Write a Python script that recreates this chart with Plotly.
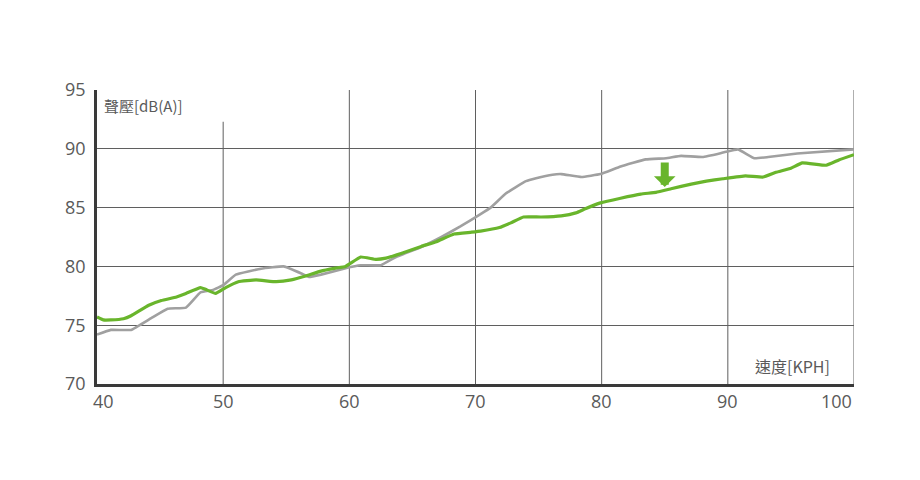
import plotly.graph_objects as go

# ---- data ----
gray_x = [40, 41.1, 42.7, 44.3, 45.6, 47.05, 48.2, 49.2, 50, 51, 53, 54.8, 56.2, 56.8,
          57.75, 59.7, 60.9, 62.5, 63.7, 65.7, 67.3, 68.8, 70.4, 71.2, 72.4, 74, 74.8,
          76.1, 76.8, 78.4, 79.9, 81.5, 83.5, 85.1, 86.3, 88.0, 89.7, 90.8, 92.1, 93.2,
          95.5, 100]
gray_y = [74.2, 74.6, 74.6, 75.6, 76.4, 76.5, 77.8, 78.0, 78.4, 79.3, 79.8, 80.0, 79.4, 79.1,
          79.3, 79.85, 80.1, 80.1, 80.8, 81.65, 82.5, 83.4, 84.45, 85.0, 86.2, 87.25, 87.5,
          87.8, 87.85, 87.6, 87.85, 88.5, 89.1, 89.2, 89.4, 89.3, 89.7, 89.95, 89.2, 89.3,
          89.6, 89.95]

green_x = [40, 40.5, 41.1, 42.1, 42.7, 44.1, 45.1, 46.3, 47.05, 48.2, 48.6, 49.4, 50.2,
           51.2, 52.6, 54.2, 55.4, 56.6, 57.75, 58.9, 59.7, 60.9, 62.1, 62.9, 64.1, 65.7,
           66.9, 68.3, 69.6, 70.4, 71.9, 72.8, 73.8, 75.2, 76.8, 77.95, 78.7, 79.9, 81.5,
           83.1, 84.3, 85.5, 87.1, 88.3, 89.6, 91.4, 92.8, 93.8, 95.0, 95.9, 97.8, 98.8, 100]
green_y = [75.7, 75.45, 75.45, 75.55, 75.8, 76.7, 77.1, 77.4, 77.7, 78.2, 78.05, 77.7, 78.2,
           78.7, 78.85, 78.7, 78.85, 79.2, 79.6, 79.85, 80.0, 80.8, 80.6, 80.7, 81.1, 81.7,
           82.1, 82.75, 82.9, 83.0, 83.3, 83.7, 84.2, 84.2, 84.3, 84.55, 84.9, 85.4, 85.8,
           86.15, 86.3, 86.6, 87.0, 87.25, 87.45, 87.7, 87.6, 88.0, 88.35, 88.8, 88.6, 89.05, 89.5]

x_ticks = [40, 50, 60, 70, 80, 90, 100]
y_ticks = [70, 75, 80, 85, 90, 95]
y_label = "聲壓[dB(A)]"
x_label = "速度[KPH]"
arrow_at = (85, 86.75)

GRID = "#5f5f5f"
TXT = "#5a5a5a"
FONT = "Open Sans, Noto Sans CJK TC, sans-serif"

fig = go.Figure()
fig.add_trace(go.Scatter(x=gray_x, y=gray_y, mode="lines",
                         line=dict(color="#a0a0a0", width=2.6, shape="spline", smoothing=0.3),
                         hoverinfo="skip"))
fig.add_trace(go.Scatter(x=green_x, y=green_y, mode="lines",
                         line=dict(color="#69b52c", width=3.2, shape="spline", smoothing=0.3),
                         hoverinfo="skip"))

# vertical grid lines (the 50 one stops below the y-axis title)
for t in x_ticks[1:]:
    top = 92.3 if t == 50 else y_ticks[-1]
    fig.add_shape(type="line", xref="x", yref="y", x0=t, x1=t, y0=y_ticks[0], y1=top,
                  line=dict(color=GRID, width=1), layer="below")

# x tick labels as annotations (edge labels nudged inward)
for t in x_ticks:
    if t == x_ticks[0]:
        anchor, shift = "center", 6
    elif t == x_ticks[-1]:
        anchor, shift = "right", 0
    else:
        anchor, shift = "center", 0
    fig.add_annotation(x=t, y=0, xref="x", yref="paper", text=str(t), showarrow=False,
                       xanchor=anchor, yanchor="top", yshift=-3, xshift=shift,
                       font=dict(family=FONT, size=18, color=TXT))

fig.add_annotation(x=0, y=1, xref="paper", yref="paper", text=y_label, showarrow=False,
                   xanchor="left", yanchor="top", xshift=5, yshift=-3,
                   font=dict(family="Noto Sans CJK TC", size=15, color=TXT))
fig.add_annotation(x=1, y=0, xref="paper", yref="paper", text=x_label, showarrow=False,
                   xanchor="right", yanchor="bottom", xshift=-22, yshift=4,
                   font=dict(family="Noto Sans CJK TC", size=16, color=TXT))

fig.add_annotation(x=arrow_at[0], y=arrow_at[1], xref="x", yref="y", text="",
                   showarrow=True, ax=0, ay=-26, arrowhead=1, arrowsize=0.45,
                   arrowwidth=8, arrowcolor="#69b52c", standoff=0)

fig.update_layout(
    width=920, height=480,
    margin=dict(l=89, r=74, t=82, b=104),
    paper_bgcolor="white", plot_bgcolor="white",
    showlegend=False,
    xaxis=dict(range=[40, 100], tickvals=x_ticks, showticklabels=False, showgrid=False,
               zeroline=False, showline=True, linecolor="#3a3a3a", linewidth=2.5,
               ticks=""),
    yaxis=dict(range=[70, 95], tickvals=y_ticks, showgrid=True, gridcolor=GRID,
               gridwidth=1, zeroline=False, showline=True, linecolor="#3a3a3a",
               linewidth=2.5, ticks="", ticklabelstandoff=5,
               tickfont=dict(family=FONT, size=18, color=TXT)),
)

fig.write_html("out.html")
